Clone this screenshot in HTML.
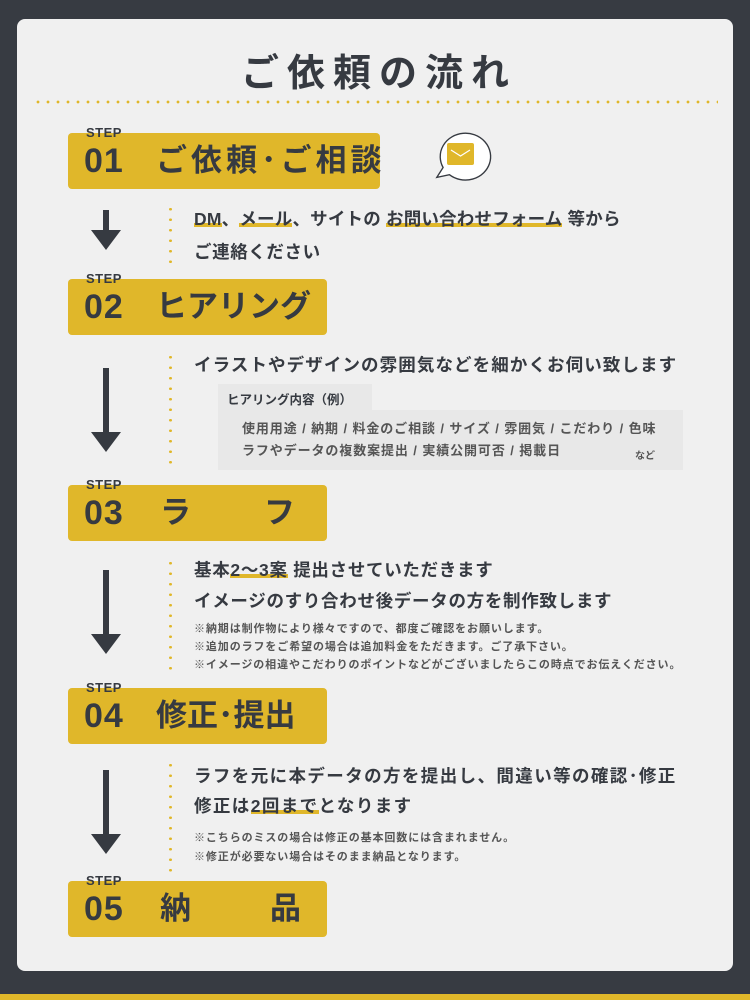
<!DOCTYPE html>
<html><head><meta charset="utf-8"><style>
*{margin:0;padding:0;box-sizing:border-box}
body{width:750px;height:1000px;background:#373b42;position:relative;overflow:hidden;font-family:"Liberation Sans","Noto Sans CJK JP",sans-serif;color:#363a41;font-weight:bold}
.card{position:absolute;left:17px;top:19px;width:716px;height:952px;background:#f0f0f0;border-radius:8px}
.a{position:absolute;white-space:nowrap}
.box{position:absolute;left:68px;height:56px;background:#e0b72a;border-radius:4px}
.num{position:absolute;left:84px;font-size:34px;line-height:56px;font-weight:bold;letter-spacing:1px}
.step{position:absolute;left:86px;font-size:13px;letter-spacing:0.5px}
.ttl{position:absolute;font-size:31px;line-height:56px}
.dots{position:absolute;left:169px;width:3px;background:radial-gradient(circle,#e0b72a 1.3px,transparent 1.5px) 0 0/3px 10.5px repeat-y}
.arr{position:absolute;left:103px;width:6px;background:#363a41}
.head{position:absolute;left:91px;width:0;height:0;border-left:15px solid transparent;border-right:15px solid transparent;border-top:20px solid #363a41}
.t1{font-size:17.5px;letter-spacing:0.6px}
.t2{font-size:11px;color:#555;letter-spacing:0.9px}
.u{background:linear-gradient(transparent 70%,#e0b72a 70%,#e0b72a 90%,transparent 90%)}
</style></head><body>
<div class="card"></div>
<div class="a" style="left:0;top:994px;width:750px;height:6px;background:#e0b72a"></div>
<div class="a" style="left:241px;top:42px;font-size:38px;letter-spacing:8px">ご依頼の流れ</div>
<div class="a" style="left:33px;top:100px;width:685px;height:4px;background:radial-gradient(circle,#e0b72a 1.3px,transparent 1.5px) 0 0/10px 4px repeat-x"></div>

<div class="box" style="top:133px;width:312px"></div>
<div class="step" style="top:125px">STEP</div>
<div class="num" style="top:133px">01</div>
<div class="ttl" style="left:156px;top:133px;letter-spacing:4px">ご依頼･ご相談</div>
<svg class="a" style="left:428px;top:128px" width="66" height="58" viewBox="0 0 66 58"><path d="M6 52 L13 41 A28 26 0 1 1 20 49 Z" fill="#fff" stroke="#363a41" stroke-width="1.5" transform="translate(34,26) scale(0.9) translate(-34,-26)"/><rect x="19" y="15" width="27" height="22" rx="2" fill="#e0b72a"/><path d="M23 22 L32.5 28 L42 22" fill="none" stroke="#fff" stroke-width="1.2"/></svg>

<div class="dots" style="top:204px;height:66px"></div>
<div class="arr" style="top:210px;height:22px"></div><div class="head" style="top:230px"></div>
<div class="a t1" style="left:194px;top:206px;letter-spacing:0.2px"><span class="u">DM</span>、<span class="u">メール</span>、サイトの <span class="u">お問い合わせフォーム</span> 等から</div>
<div class="a t1" style="left:194px;top:239px">ご連絡ください</div>

<div class="box" style="top:279px;width:259px"></div>
<div class="step" style="top:271px">STEP</div>
<div class="num" style="top:279px">02</div>
<div class="ttl" style="left:156px;top:279px">ヒアリング</div>

<div class="dots" style="top:352px;height:118px"></div>
<div class="arr" style="top:368px;height:66px"></div><div class="head" style="top:432px"></div>
<div class="a t1" style="left:194px;top:352px;letter-spacing:1.1px">イラストやデザインの雰囲気などを細かくお伺い致します</div>
<div class="a" style="left:218px;top:384px;width:154px;height:26px;background:#e8e8e8"></div>
<div class="a" style="left:218px;top:410px;width:465px;height:60px;background:#e8e8e8"></div>
<div class="a" style="left:227px;top:389px;font-size:12.5px">ヒアリング内容（例）</div>
<div class="a" style="left:242px;top:418px;font-size:13px;letter-spacing:0.9px;color:#555">使用用途 / 納期 / 料金のご相談 / サイズ / 雰囲気 / こだわり / 色味</div>
<div class="a" style="left:242px;top:440px;font-size:13px;letter-spacing:0.9px;color:#555">ラフやデータの複数案提出 / 実績公開可否 / 掲載日</div>
<div class="a" style="left:635px;top:447px;font-size:10px;color:#555">など</div>

<div class="box" style="top:485px;width:259px"></div>
<div class="step" style="top:477px">STEP</div>
<div class="num" style="top:485px">03</div>
<div class="ttl" style="left:160px;top:485px">ラ</div>
<div class="ttl" style="left:264px;top:485px">フ</div>

<div class="dots" style="top:558px;height:112px"></div>
<div class="arr" style="top:570px;height:66px"></div><div class="head" style="top:634px"></div>
<div class="a t1" style="left:194px;top:557px;letter-spacing:0.7px">基本<span class="u">2～3案</span> 提出させていただきます</div>
<div class="a t1" style="left:194px;top:588px;letter-spacing:0.7px">イメージのすり合わせ後データの方を制作致します</div>
<div class="a t2" style="left:194px;top:620px">※納期は制作物により様々ですので、都度ご確認をお願いします。</div>
<div class="a t2" style="left:194px;top:638px">※追加のラフをご希望の場合は追加料金をただきます。ご了承下さい。</div>
<div class="a t2" style="left:194px;top:656px">※イメージの相違やこだわりのポイントなどがございましたらこの時点でお伝えください。</div>

<div class="box" style="top:688px;width:259px"></div>
<div class="step" style="top:680px">STEP</div>
<div class="num" style="top:688px">04</div>
<div class="ttl" style="left:156px;top:688px">修正･提出</div>

<div class="dots" style="top:760px;height:112px"></div>
<div class="arr" style="top:770px;height:66px"></div><div class="head" style="top:834px"></div>
<div class="a t1" style="left:194px;top:763px;letter-spacing:1.4px">ラフを元に本データの方を提出し、間違い等の確認･修正</div>
<div class="a t1" style="left:194px;top:793px;letter-spacing:1.4px">修正は<span class="u">2回まで</span>となります</div>
<div class="a t2" style="left:194px;top:829px">※こちらのミスの場合は修正の基本回数には含まれません。</div>
<div class="a t2" style="left:194px;top:848px">※修正が必要ない場合はそのまま納品となります。</div>

<div class="box" style="top:881px;width:259px"></div>
<div class="step" style="top:873px">STEP</div>
<div class="num" style="top:881px">05</div>
<div class="ttl" style="left:160px;top:881px">納</div>
<div class="ttl" style="left:270px;top:881px">品</div>
</body></html>
